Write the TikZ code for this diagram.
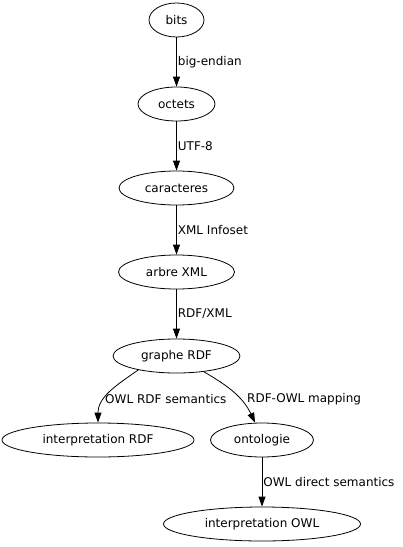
\documentclass[tikz,border=0pt]{standalone}
\usepackage{fontspec}
\setmainfont{DejaVu Sans}
\usetikzlibrary{shapes,arrows.meta,positioning,calc}

\begin{document}
\begin{tikzpicture}[x=1pt,y=-1pt,
    etat/.style={draw, ellipse, line width=0.8pt, minimum height=34pt, inner sep=0pt, font=\fontsize{12}{14}\selectfont},
    fleche/.style={-{Triangle[length=10pt,width=7pt]}, line width=0.8pt},
    etiquette/.style={inner sep=1pt, font=\fontsize{12}{14}\selectfont}]
    \useasboundingbox (0,0) rectangle (403,547);
    \node[etat, minimum width=55pt] (bits) at (176.5,20) {bits};
    \node[etat, minimum width=77pt] (octets) at (176.5,104) {octets};
    \node[etat, minimum width=115pt] (caracteres) at (176.5,188) {caracteres};
    \node[etat, minimum width=116pt] (arbre) at (176.5,272) {arbre XML};
    \node[etat, minimum width=127pt] (graphe) at (176.5,356) {graphe RDF};
    \node[etat, minimum width=192pt] (interpRDF) at (98,440) {interpretation RDF};
    \node[etat, minimum width=103pt] (ontologie) at (262,440) {ontologie};
    \node[etat, minimum width=197pt] (interpOWL) at (262,524) {interpretation OWL};
    % aretes
    \draw[fleche] (bits) -- (octets) node[etiquette, midway, right] (bigend) {big-endian};
    \draw[fleche] (octets) -- (caracteres) node[etiquette, midway, right] (utf) {UTF-8};
    \draw[fleche] (caracteres) -- (arbre) node[etiquette, midway, right] (infoset) {XML Infoset};
    \draw[fleche] (arbre) -- (graphe) node[etiquette, midway, right] (rdfxml) {RDF/XML};
    \draw[fleche] (graphe.200) to[out=215, in=90] (interpRDF);
    \draw[fleche] (graphe.-30) to[out=-30, in=115] (ontologie.112);
    \draw[fleche] (ontologie) -- (interpOWL) node[etiquette, midway, right] (direct) {OWL direct semantics};
    \node[etiquette, anchor=west] (owlrdf) at (104,399) {OWL RDF semantics};
    \node[etiquette, anchor=west] (mapping) at (246,399) {RDF-OWL mapping};
\end{tikzpicture}
\end{document}
